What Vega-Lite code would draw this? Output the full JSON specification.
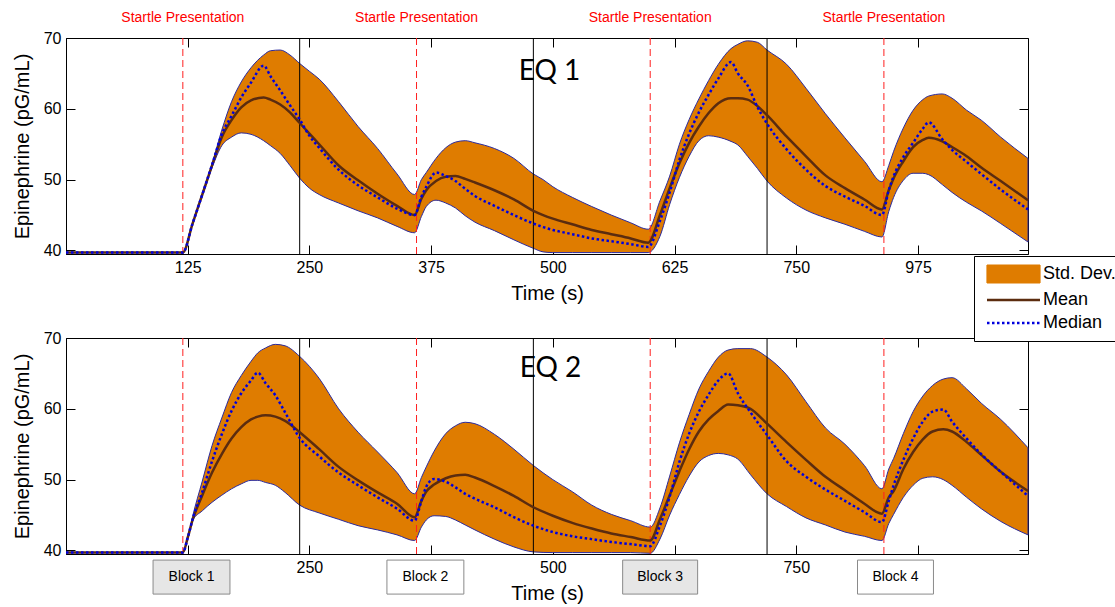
{
  "$schema": "https://vega.github.io/schema/vega-lite/v6.json",
  "background": "white",
  "padding": {"left": 11, "top": 10, "right": 0, "bottom": 0},
  "config": {
    "view": {"stroke": "black", "strokeWidth": 1},
    "font": "Liberation Sans",
    "axis": {"labelFont": "Liberation Sans", "labelFontSize": 16, "labelColor": "black", "titleFont": "Liberation Sans", "titleFontSize": 20, "titleFontWeight": "normal", "titleColor": "black", "domainColor": "black", "tickColor": "black", "grid": false, "tickSize": -9, "labelPadding": 14}
  },
  "datasets": {
    "eq1": [
      {"t":0,"hi":39.7,"mean":39.7,"lo":39.7,"med":39.7},
      {"t":120,"hi":39.7,"mean":39.7,"lo":39.7,"med":39.7},
      {"t":130,"hi":43.8,"mean":43.8,"lo":43.8,"med":43.8},
      {"t":140,"hi":47.9,"mean":47.9,"lo":47.9,"med":47.9},
      {"t":150,"hi":52.2,"mean":52.0,"lo":51.7,"med":52.1},
      {"t":160,"hi":57.0,"mean":56.0,"lo":54.8,"med":56.4},
      {"t":170,"hi":61.0,"mean":58.4,"lo":56.0,"med":59.0},
      {"t":180,"hi":63.8,"mean":60.2,"lo":56.6,"med":61.6},
      {"t":190,"hi":65.8,"mean":61.2,"lo":56.4,"med":63.7},
      {"t":203,"hi":67.6,"mean":61.6,"lo":55.5,"med":66.1},
      {"t":210,"hi":68.2,"mean":61.3,"lo":54.8,"med":64.6},
      {"t":220,"hi":68.3,"mean":60.6,"lo":53.7,"med":62.6},
      {"t":230,"hi":67.6,"mean":59.5,"lo":52.0,"med":60.5},
      {"t":240,"hi":66.4,"mean":58.0,"lo":50.2,"med":58.5},
      {"t":250,"hi":65.3,"mean":56.5,"lo":48.8,"med":56.2},
      {"t":260,"hi":64.2,"mean":55.0,"lo":47.9,"med":54.5},
      {"t":280,"hi":61.0,"mean":52.0,"lo":46.7,"med":51.4},
      {"t":300,"hi":57.5,"mean":49.9,"lo":45.6,"med":49.2},
      {"t":320,"hi":54.4,"mean":48.0,"lo":44.6,"med":47.5},
      {"t":340,"hi":50.8,"mean":46.3,"lo":43.4,"med":45.9},
      {"t":358,"hi":47.9,"mean":45.0,"lo":42.5,"med":45.0},
      {"t":365,"hi":50.0,"mean":47.3,"lo":44.8,"med":47.6},
      {"t":370,"hi":51.0,"mean":48.5,"lo":46.2,"med":49.0},
      {"t":380,"hi":53.0,"mean":49.8,"lo":47.1,"med":51.0},
      {"t":390,"hi":54.5,"mean":50.4,"lo":46.7,"med":50.5},
      {"t":400,"hi":55.3,"mean":50.5,"lo":46.0,"med":49.8},
      {"t":410,"hi":55.5,"mean":50.1,"lo":44.9,"med":48.7},
      {"t":420,"hi":55.2,"mean":49.6,"lo":44.0,"med":47.7},
      {"t":440,"hi":54.4,"mean":48.5,"lo":42.8,"med":46.3},
      {"t":460,"hi":53.0,"mean":47.2,"lo":41.5,"med":45.0},
      {"t":480,"hi":50.8,"mean":45.6,"lo":40.3,"med":43.8},
      {"t":490,"hi":50.0,"mean":45.0,"lo":39.8,"med":43.3},
      {"t":500,"hi":49.0,"mean":44.5,"lo":39.7,"med":42.9},
      {"t":520,"hi":47.5,"mean":43.7,"lo":39.7,"med":42.3},
      {"t":540,"hi":46.2,"mean":42.9,"lo":39.7,"med":41.7},
      {"t":560,"hi":45.0,"mean":42.3,"lo":39.7,"med":41.3},
      {"t":580,"hi":43.9,"mean":41.7,"lo":39.7,"med":40.9},
      {"t":598,"hi":43.0,"mean":41.1,"lo":39.7,"med":40.5},
      {"t":610,"hi":47.0,"mean":45.0,"lo":42.0,"med":44.2},
      {"t":620,"hi":50.5,"mean":48.8,"lo":46.5,"med":48.2},
      {"t":630,"hi":55.0,"mean":52.3,"lo":50.3,"med":52.8},
      {"t":640,"hi":58.5,"mean":55.2,"lo":53.3,"med":56.5},
      {"t":650,"hi":61.4,"mean":57.5,"lo":55.5,"med":59.5},
      {"t":660,"hi":64.0,"mean":59.4,"lo":56.2,"med":62.0},
      {"t":670,"hi":66.3,"mean":60.8,"lo":56.0,"med":64.3},
      {"t":683,"hi":68.5,"mean":61.5,"lo":55.4,"med":66.6},
      {"t":690,"hi":69.1,"mean":61.5,"lo":54.9,"med":65.0},
      {"t":700,"hi":69.6,"mean":61.3,"lo":53.3,"med":63.3},
      {"t":710,"hi":69.4,"mean":60.4,"lo":51.6,"med":60.3},
      {"t":720,"hi":68.3,"mean":59.1,"lo":49.8,"med":57.9},
      {"t":740,"hi":66.3,"mean":56.1,"lo":47.4,"med":54.3},
      {"t":760,"hi":62.9,"mean":53.3,"lo":45.7,"med":51.4},
      {"t":780,"hi":59.3,"mean":50.6,"lo":44.6,"med":49.1},
      {"t":800,"hi":55.9,"mean":48.8,"lo":43.7,"med":47.6},
      {"t":820,"hi":52.6,"mean":47.2,"lo":42.7,"med":46.3},
      {"t":838,"hi":49.7,"mean":45.8,"lo":41.9,"med":45.0},
      {"t":845,"hi":52.0,"mean":48.5,"lo":45.5,"med":48.5},
      {"t":850,"hi":54.0,"mean":50.2,"lo":47.5,"med":50.5},
      {"t":860,"hi":57.3,"mean":52.6,"lo":49.9,"med":53.2},
      {"t":870,"hi":59.8,"mean":54.6,"lo":50.9,"med":55.2},
      {"t":880,"hi":61.3,"mean":55.6,"lo":50.9,"med":57.2},
      {"t":886,"hi":61.8,"mean":55.9,"lo":50.7,"med":58.1},
      {"t":900,"hi":62.1,"mean":55.4,"lo":49.3,"med":55.7},
      {"t":910,"hi":61.5,"mean":54.6,"lo":48.2,"med":54.2},
      {"t":925,"hi":59.8,"mean":53.3,"lo":46.8,"med":52.5},
      {"t":940,"hi":58.4,"mean":51.7,"lo":45.6,"med":50.8},
      {"t":960,"hi":56.0,"mean":49.8,"lo":43.8,"med":48.6},
      {"t":988,"hi":53.0,"mean":47.1,"lo":41.2,"med":45.8}
    ],
    "eq2": [
      {"t":0,"hi":39.7,"mean":39.7,"lo":39.7,"med":39.7},
      {"t":120,"hi":39.7,"mean":39.7,"lo":39.7,"med":39.7},
      {"t":125,"hi":41.8,"mean":41.8,"lo":41.8,"med":41.8},
      {"t":130,"hi":44.8,"mean":44.3,"lo":44.2,"med":44.4},
      {"t":140,"hi":49.8,"mean":47.8,"lo":45.6,"med":48.3},
      {"t":150,"hi":54.8,"mean":51.0,"lo":46.8,"med":52.6},
      {"t":160,"hi":58.7,"mean":53.6,"lo":47.8,"med":56.4},
      {"t":170,"hi":62.3,"mean":55.8,"lo":48.7,"med":59.7},
      {"t":180,"hi":64.7,"mean":57.4,"lo":49.4,"med":62.2},
      {"t":190,"hi":66.7,"mean":58.5,"lo":49.9,"med":64.0},
      {"t":197,"hi":67.9,"mean":58.9,"lo":49.9,"med":65.1},
      {"t":205,"hi":68.6,"mean":59.1,"lo":49.6,"med":63.6},
      {"t":215,"hi":69.1,"mean":58.9,"lo":49.2,"med":61.9},
      {"t":225,"hi":68.9,"mean":58.3,"lo":48.2,"med":59.5},
      {"t":240,"hi":67.4,"mean":56.7,"lo":46.4,"med":55.9},
      {"t":260,"hi":64.3,"mean":54.3,"lo":45.3,"med":53.3},
      {"t":280,"hi":60.0,"mean":51.8,"lo":44.4,"med":51.0},
      {"t":300,"hi":56.7,"mean":49.9,"lo":43.5,"med":49.2},
      {"t":320,"hi":53.9,"mean":48.2,"lo":42.9,"med":47.5},
      {"t":340,"hi":51.0,"mean":46.6,"lo":42.2,"med":45.9},
      {"t":358,"hi":48.0,"mean":44.7,"lo":41.4,"med":44.2},
      {"t":365,"hi":50.3,"mean":47.0,"lo":43.3,"med":47.0},
      {"t":370,"hi":51.8,"mean":48.3,"lo":44.3,"med":49.0},
      {"t":378,"hi":54.0,"mean":49.3,"lo":44.9,"med":50.1},
      {"t":390,"hi":56.5,"mean":50.2,"lo":44.8,"med":49.7},
      {"t":400,"hi":57.6,"mean":50.6,"lo":44.3,"med":48.9},
      {"t":410,"hi":58.1,"mean":50.7,"lo":43.6,"med":48.0},
      {"t":420,"hi":57.9,"mean":50.3,"lo":42.9,"med":47.3},
      {"t":440,"hi":56.4,"mean":49.1,"lo":41.6,"med":46.1},
      {"t":460,"hi":54.3,"mean":47.7,"lo":40.5,"med":44.7},
      {"t":480,"hi":52.0,"mean":46.1,"lo":39.8,"med":43.5},
      {"t":500,"hi":50.0,"mean":44.9,"lo":39.7,"med":42.6},
      {"t":520,"hi":48.3,"mean":43.9,"lo":39.7,"med":42.0},
      {"t":540,"hi":46.4,"mean":43.1,"lo":39.7,"med":41.6},
      {"t":560,"hi":45.1,"mean":42.4,"lo":39.7,"med":41.2},
      {"t":580,"hi":44.2,"mean":41.9,"lo":39.7,"med":40.9},
      {"t":600,"hi":43.3,"mean":41.4,"lo":39.6,"med":40.6},
      {"t":610,"hi":46.0,"mean":44.4,"lo":41.6,"med":43.5},
      {"t":620,"hi":50.5,"mean":47.8,"lo":45.0,"med":47.6},
      {"t":630,"hi":55.2,"mean":51.2,"lo":47.9,"med":52.5},
      {"t":640,"hi":59.2,"mean":54.3,"lo":50.5,"med":56.5},
      {"t":650,"hi":62.8,"mean":56.8,"lo":52.5,"med":59.6},
      {"t":660,"hi":65.3,"mean":58.5,"lo":53.4,"med":62.0},
      {"t":670,"hi":67.3,"mean":59.7,"lo":53.7,"med":64.0},
      {"t":680,"hi":68.3,"mean":60.6,"lo":53.5,"med":65.0},
      {"t":690,"hi":68.5,"mean":60.5,"lo":52.9,"med":62.2},
      {"t":703,"hi":68.5,"mean":60.0,"lo":50.7,"med":59.5},
      {"t":720,"hi":67.3,"mean":57.9,"lo":48.0,"med":56.3},
      {"t":740,"hi":64.8,"mean":55.3,"lo":46.2,"med":52.6},
      {"t":760,"hi":61.0,"mean":52.8,"lo":44.6,"med":50.4},
      {"t":780,"hi":57.3,"mean":50.4,"lo":43.6,"med":48.6},
      {"t":800,"hi":55.0,"mean":48.5,"lo":42.6,"med":47.0},
      {"t":820,"hi":52.0,"mean":46.6,"lo":42.0,"med":45.4},
      {"t":838,"hi":48.7,"mean":45.2,"lo":41.4,"med":44.0},
      {"t":845,"hi":51.5,"mean":47.5,"lo":43.8,"med":47.0},
      {"t":850,"hi":53.0,"mean":48.4,"lo":45.1,"med":49.2},
      {"t":860,"hi":56.5,"mean":51.5,"lo":47.5,"med":52.8},
      {"t":870,"hi":59.6,"mean":53.9,"lo":49.2,"med":55.8},
      {"t":880,"hi":61.8,"mean":55.7,"lo":50.2,"med":58.2},
      {"t":890,"hi":63.3,"mean":56.8,"lo":50.4,"med":59.6},
      {"t":901,"hi":64.2,"mean":57.1,"lo":50.0,"med":59.9},
      {"t":910,"hi":64.4,"mean":56.8,"lo":49.2,"med":58.2},
      {"t":925,"hi":62.8,"mean":55.3,"lo":47.5,"med":55.8},
      {"t":940,"hi":60.8,"mean":53.5,"lo":45.9,"med":53.6},
      {"t":960,"hi":58.5,"mean":51.1,"lo":44.1,"med":51.1},
      {"t":988,"hi":54.5,"mean":48.4,"lo":42.2,"med":47.7}
    ],
    "startle": [
      {"t":120,"label":"Startle Presentation"},
      {"t":360,"label":"Startle Presentation"},
      {"t":600,"label":"Startle Presentation"},
      {"t":840,"label":"Startle Presentation"}
    ],
    "bounds": [{"t":240},{"t":480},{"t":720}],
    "blocks": [
      {"block":"Block 1","start":89.4,"end":168.4,"mid":128.9},
      {"block":"Block 2","start":329.6,"end":408.6,"mid":369.1},
      {"block":"Block 3","start":571.7,"end":648.7,"mid":610.2},
      {"block":"Block 4","start":812.9,"end":890.9,"mid":851.9}
    ]
  },
  "spacing": 25,
  "resolve": {"scale": {"color": "shared"}, "legend": {"color": "shared"}},
  "vconcat": [
    {
      "width": 962,
      "height": 216,
      "resolve": {"axis": {"x": "independent", "y": "independent"}},
      "layer": [
        {
          "data": {"name": "eq1"},
          "mark": {"type": "area", "interpolate": "monotone", "stroke": "#2b2b9e", "strokeWidth": 1, "opacity": 1},
          "encoding": {
            "x": {"field": "t", "type": "quantitative", "scale": {"domain": [0, 988], "nice": false, "zero": false},
                  "axis": {"values": [125, 250, 375, 500, 625, 750, 875], "labelExpr": "datum.value == 875 ? '975' : datum.label", "title": "Time (s)", "titlePadding": 8}},
            "y": {"field": "hi", "type": "quantitative", "scale": {"domain": [39.5, 70], "nice": false, "zero": false},
                  "axis": {"values": [40, 50, 60, 70], "title": "Epinephrine (pG/mL)", "titlePadding": 11}},
            "y2": {"field": "lo"},
            "color": {"datum": "Std. Dev.", "type": "nominal",
                      "scale": {"domain": ["Std. Dev.", "Mean", "Median"], "range": ["#DF7C00", "#5B2C0F", "#0000DD"]},
                      "legend": {
                        "orient": "none", "legendX": 908, "legendY": 218, "title": null,
                        "padding": 9, "strokeColor": "black", "fillColor": "white",
                        "labelFont": "Liberation Sans", "labelFontSize": 18, "labelColor": "black",
                        "symbolSize": 100, "labelOffset": 42, "rowPadding": 5,
                        "symbolType": {"expr": "datum.value === 'Std. Dev.' ? 'M-1,-1.8H9.6V1.8H-1Z' : 'M-1,0H9.6'"},
                        "symbolStrokeWidth": {"expr": "datum.value === 'Std. Dev.' ? 1.2 : 2.5"},
                        "symbolDash": {"expr": "datum.value === 'Median' ? [2.5, 2.5] : [1, 0]"},
                        "symbolFillColor": {"expr": "datum.value === 'Std. Dev.' ? '#DF7C00' : 'transparent'"},
                        "symbolStrokeColor": {"expr": "datum.value === 'Std. Dev.' ? '#2b2b9e' : (datum.value === 'Mean' ? '#5B2C0F' : '#0000DD')"},
                        "symbolOpacity": 1
                      }}
          }
        },
        {
          "data": {"name": "bounds"},
          "mark": {"type": "rule", "color": "black", "strokeWidth": 1},
          "encoding": {
            "x": {"field": "t", "type": "quantitative", "scale": {"domain": [0, 988], "nice": false, "zero": false},
                  "axis": {"orient": "top", "values": [125, 250, 375, 500, 625, 750, 875], "labels": false, "domain": false, "title": null}}
          }
        },
        {
          "data": {"name": "startle"},
          "mark": {"type": "rule", "color": "#FF2020", "strokeWidth": 1, "strokeDash": [7, 4]},
          "encoding": {
            "x": {"field": "t", "type": "quantitative", "scale": {"domain": [0, 988], "nice": false, "zero": false}, "axis": null}
          }
        },
        {
          "data": {"name": "eq1"},
          "mark": {"type": "line", "interpolate": "monotone", "strokeWidth": 2.5},
          "encoding": {
            "x": {"field": "t", "type": "quantitative", "scale": {"domain": [0, 988], "nice": false, "zero": false}, "axis": null},
            "y": {"field": "mean", "type": "quantitative", "scale": {"domain": [39.5, 70], "nice": false, "zero": false},
                  "axis": {"orient": "right", "values": [40, 50, 60, 70], "labels": false, "domain": false, "title": null}},
            "color": {"datum": "Mean", "type": "nominal", "scale": {"domain": ["Std. Dev.", "Mean", "Median"], "range": ["#DF7C00", "#5B2C0F", "#0000DD"]}}
          }
        },
        {
          "data": {"name": "eq1"},
          "mark": {"type": "line", "interpolate": "monotone", "strokeWidth": 2.5, "strokeDash": [2.5, 2.5]},
          "encoding": {
            "x": {"field": "t", "type": "quantitative", "scale": {"domain": [0, 988], "nice": false, "zero": false}, "axis": null},
            "y": {"field": "med", "type": "quantitative", "scale": {"domain": [39.5, 70], "nice": false, "zero": false}, "axis": null},
            "color": {"datum": "Median", "type": "nominal", "scale": {"domain": ["Std. Dev.", "Mean", "Median"], "range": ["#DF7C00", "#5B2C0F", "#0000DD"]}}
          }
        },
        {
          "data": {"name": "startle"},
          "mark": {"type": "text", "color": "#FF0000", "fontSize": 14, "font": "Liberation Sans", "baseline": "middle", "align": "center"},
          "encoding": {
            "x": {"field": "t", "type": "quantitative", "scale": {"domain": [0, 988], "nice": false, "zero": false}, "axis": null},
            "y": {"datum": 72.82, "type": "quantitative", "scale": {"domain": [39.5, 70], "nice": false, "zero": false}, "axis": null},
            "text": {"field": "label"}
          }
        },
        {
          "data": {"values": [{"label": "EQ 1"}]},
          "mark": {"type": "text", "color": "black", "fontSize": 28, "font": "Lato", "baseline": "alphabetic", "align": "left"},
          "encoding": {
            "x": {"datum": 465, "type": "quantitative", "scale": {"domain": [0, 988], "nice": false, "zero": false}, "axis": null},
            "y": {"datum": 64.07, "type": "quantitative", "scale": {"domain": [39.5, 70], "nice": false, "zero": false}, "axis": null},
            "text": {"field": "label"}
          }
        }
      ]
    },
    {
      "width": 962,
      "height": 216,
      "resolve": {"axis": {"x": "independent", "y": "independent"}},
      "layer": [
        {
          "data": {"name": "eq2"},
          "mark": {"type": "area", "interpolate": "monotone", "stroke": "#2b2b9e", "strokeWidth": 1, "fill": "#DF7C00", "opacity": 1},
          "encoding": {
            "x": {"field": "t", "type": "quantitative", "scale": {"domain": [0, 988], "nice": false, "zero": false},
                  "axis": {"values": [125, 250, 375, 500, 625, 750, 875], "labelExpr": "datum.value == 875 ? '975' : datum.label", "title": "Time (s)", "titlePadding": 8}},
            "y": {"field": "hi", "type": "quantitative", "scale": {"domain": [39.5, 70], "nice": false, "zero": false},
                  "axis": {"values": [40, 50, 60, 70], "title": "Epinephrine (pG/mL)", "titlePadding": 11}},
            "y2": {"field": "lo"}
          }
        },
        {
          "data": {"name": "bounds"},
          "mark": {"type": "rule", "color": "black", "strokeWidth": 1},
          "encoding": {
            "x": {"field": "t", "type": "quantitative", "scale": {"domain": [0, 988], "nice": false, "zero": false},
                  "axis": {"orient": "top", "values": [125, 250, 375, 500, 625, 750, 875], "labels": false, "domain": false, "title": null}}
          }
        },
        {
          "data": {"name": "startle"},
          "mark": {"type": "rule", "color": "#FF2020", "strokeWidth": 1, "strokeDash": [7, 4]},
          "encoding": {
            "x": {"field": "t", "type": "quantitative", "scale": {"domain": [0, 988], "nice": false, "zero": false}, "axis": null}
          }
        },
        {
          "data": {"name": "eq2"},
          "mark": {"type": "line", "interpolate": "monotone", "strokeWidth": 2.5, "color": "#5B2C0F"},
          "encoding": {
            "x": {"field": "t", "type": "quantitative", "scale": {"domain": [0, 988], "nice": false, "zero": false}, "axis": null},
            "y": {"field": "mean", "type": "quantitative", "scale": {"domain": [39.5, 70], "nice": false, "zero": false},
                  "axis": {"orient": "right", "values": [40, 50, 60, 70], "labels": false, "domain": false, "title": null}}
          }
        },
        {
          "data": {"name": "eq2"},
          "mark": {"type": "line", "interpolate": "monotone", "strokeWidth": 2.5, "strokeDash": [2.5, 2.5], "color": "#0000DD"},
          "encoding": {
            "x": {"field": "t", "type": "quantitative", "scale": {"domain": [0, 988], "nice": false, "zero": false}, "axis": null},
            "y": {"field": "med", "type": "quantitative", "scale": {"domain": [39.5, 70], "nice": false, "zero": false}, "axis": null}
          }
        },
        {
          "data": {"values": [{"label": "EQ 2"}]},
          "mark": {"type": "text", "color": "black", "fontSize": 28, "font": "Lato", "baseline": "alphabetic", "align": "left"},
          "encoding": {
            "x": {"datum": 466, "type": "quantitative", "scale": {"domain": [0, 988], "nice": false, "zero": false}, "axis": null},
            "y": {"datum": 64.5, "type": "quantitative", "scale": {"domain": [39.5, 70], "nice": false, "zero": false}, "axis": null},
            "text": {"field": "label"}
          }
        },
        {
          "data": {"name": "blocks"},
          "mark": {"type": "rect", "stroke": "#8a8a8a", "strokeWidth": 1},
          "encoding": {
            "x": {"field": "start", "type": "quantitative", "scale": {"domain": [0, 988], "nice": false, "zero": false}, "axis": null},
            "x2": {"field": "end"},
            "y": {"datum": 38.64, "type": "quantitative", "scale": {"domain": [39.5, 70], "nice": false, "zero": false}, "axis": null},
            "y2": {"datum": 33.84},
            "fill": {"condition": {"test": "datum.block === 'Block 1' || datum.block === 'Block 3'", "value": "#E6E6E6"}, "value": "white"}
          }
        },
        {
          "data": {"name": "blocks"},
          "mark": {"type": "text", "color": "black", "fontSize": 14, "font": "Liberation Sans", "baseline": "middle", "align": "center"},
          "encoding": {
            "x": {"field": "mid", "type": "quantitative", "scale": {"domain": [0, 988], "nice": false, "zero": false}, "axis": null},
            "y": {"datum": 36.24, "type": "quantitative", "scale": {"domain": [39.5, 70], "nice": false, "zero": false}, "axis": null},
            "text": {"field": "block"}
          }
        }
      ]
    }
  ]
}
